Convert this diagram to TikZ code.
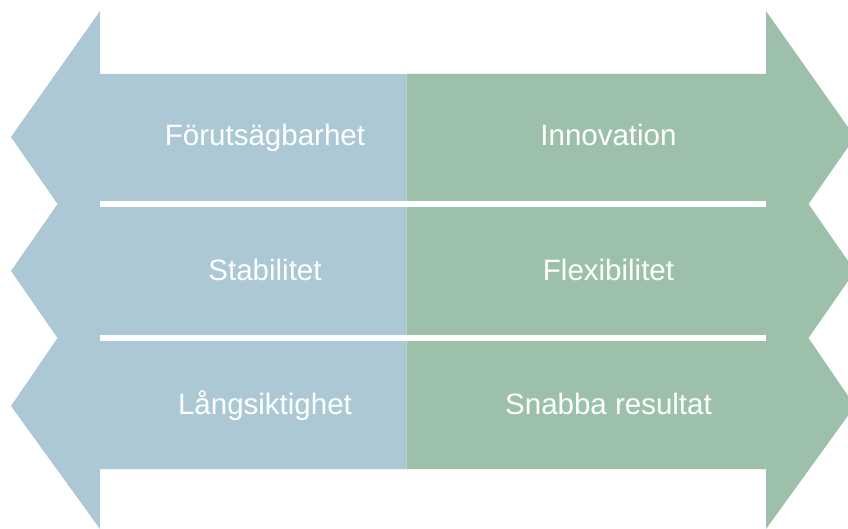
\documentclass[tikz,border=0pt]{standalone}
\usepackage{fontspec}
\setmainfont{Liberation Sans}
\usepackage{xcolor}
\definecolor{leftblue}{HTML}{ABC8D4}
\definecolor{rightgreen}{HTML}{9DC0AB}

\begin{document}
\begin{tikzpicture}[x=1pt,y=-1pt,
    sidetext/.style={text=white,font=\fontsize{29.5}{35}\selectfont,anchor=base,inner sep=0pt}]
    \useasboundingbox (0,0) rectangle (848,529);
    \clip (0,0) rectangle (848,529);
    % left arrow, three heads
    \fill[leftblue] (100,11) -- (11,137) -- (57.5,204) -- (11,271) -- (57.5,338)
        -- (11,406) -- (100,529) -- (100,469) -- (406.5,469) -- (406.5,74)
        -- (100,74) -- cycle;
    % right arrow, three heads
    \fill[rightgreen] (406.5,74) -- (766,74) -- (766,11) -- (855,137) -- (808.5,204)
        -- (855,271) -- (808.5,338) -- (855,406) -- (766,529) -- (766,469)
        -- (406.5,469) -- cycle;
    \foreach \y in {204,338} {
        \fill[white] (100,\y-3.2) rectangle (766,\y+3.2);
    }
    \foreach \t/\b [count=\i] in {Förutsägbarhet/146,Stabilitet/280,Långsiktighet/414} {
        \node[sidetext] (left\i) at (265,\b) {\t};
    }
    \foreach \t/\b [count=\i] in {Innovation/146,Flexibilitet/280,Snabba resultat/414} {
        \node[sidetext] (right\i) at (608.5,\b) {\t};
    }
\end{tikzpicture}
\end{document}
